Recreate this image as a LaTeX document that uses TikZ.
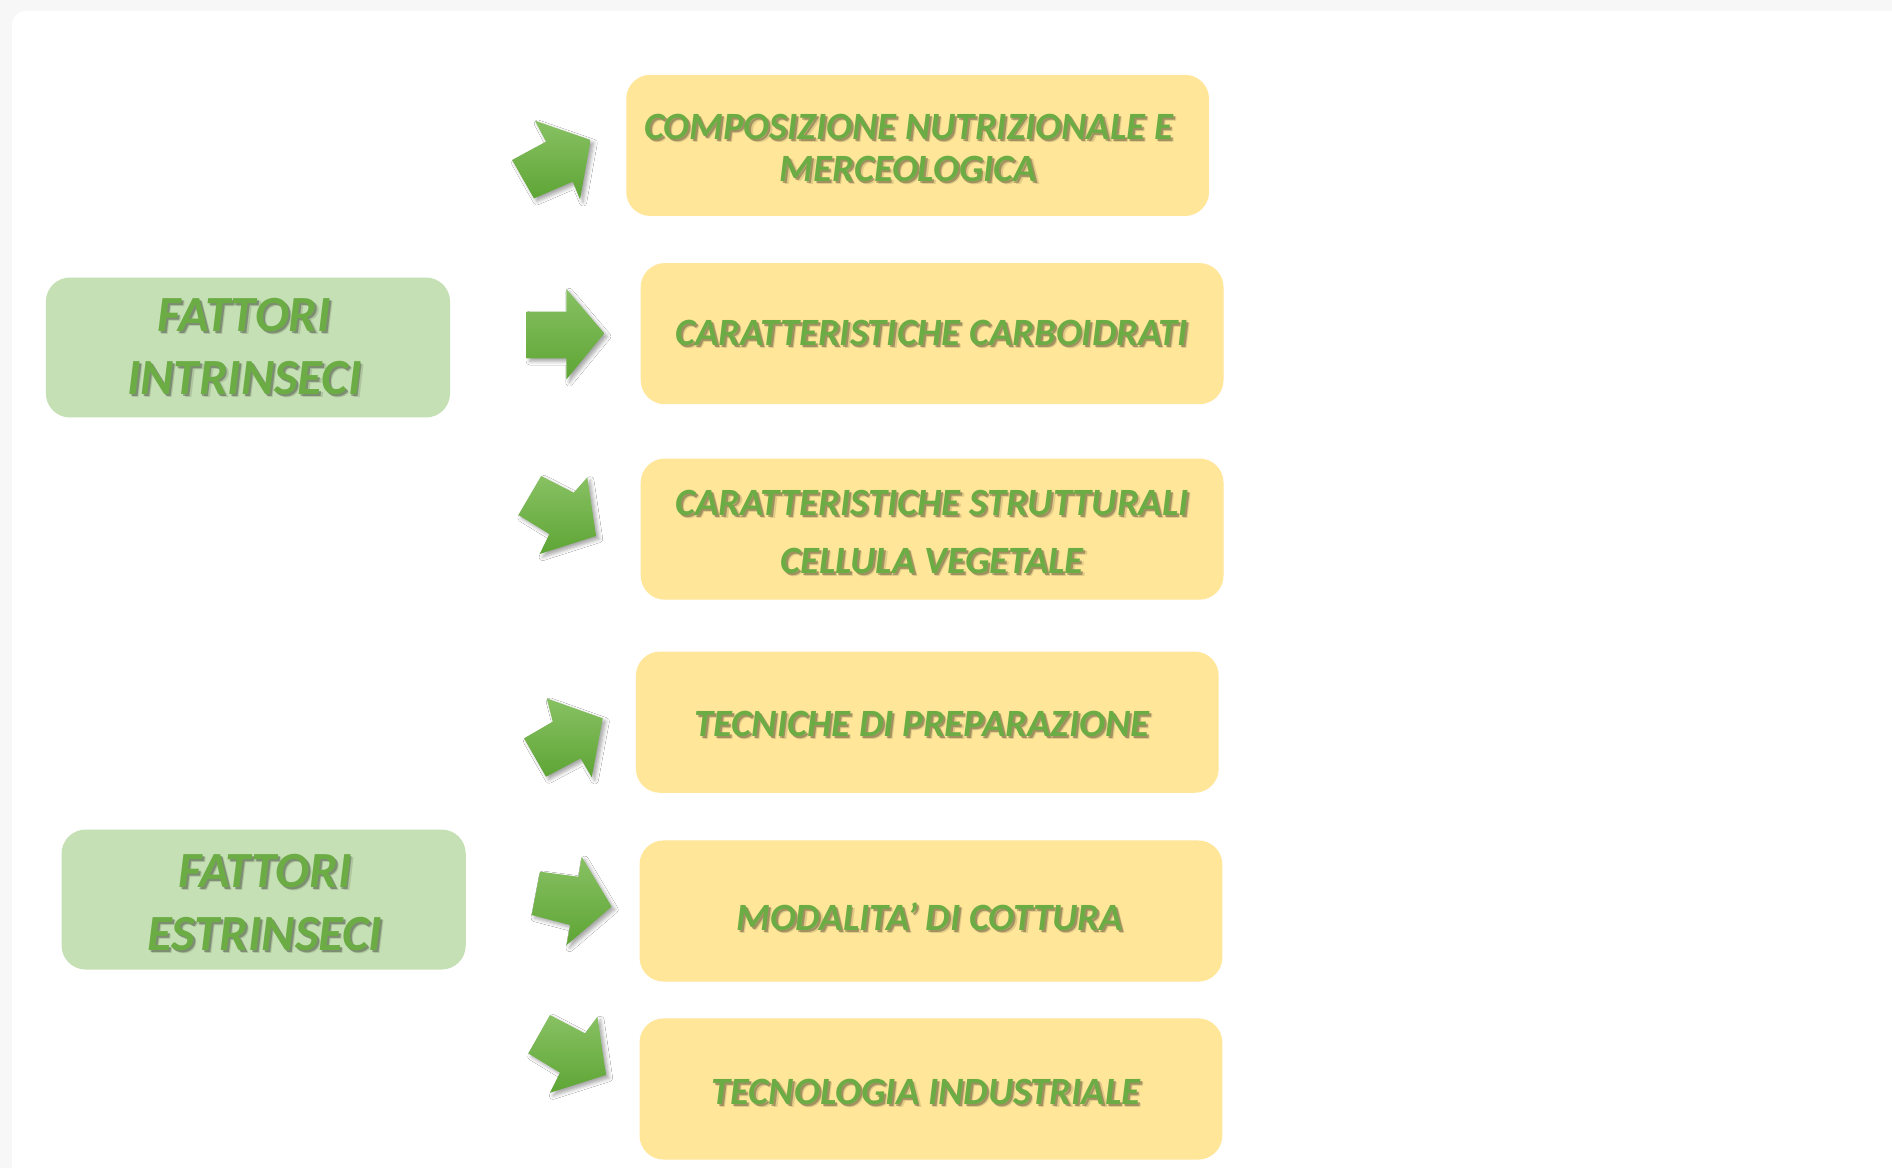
\documentclass[tikz,border=0pt]{standalone}
\usepackage{fontspec}
\setmainfont{Carlito}
\usetikzlibrary{shadows,shadows.blur,calc}
\definecolor{ycol}{HTML}{FFE699}
\definecolor{gcol}{HTML}{C5E0B4}
\definecolor{gtxt}{HTML}{6CAC45}
\definecolor{aLight}{HTML}{88C163}
\definecolor{aDark}{HTML}{5EA535}
\definecolor{framecol}{HTML}{F7F7F7}
\tikzset{
  yelbox/.style={fill=ycol, rounded corners=20pt, minimum width=483pt, minimum height=117pt, inner sep=0pt},
  grnbox/.style={fill=gcol, rounded corners=20pt, minimum width=335pt, minimum height=116pt, inner sep=0pt},
  ytext/.style={text=gtxt, font=\fontsize{32}{35}\selectfont\bfseries\itshape, align=center, inner sep=0pt},
  ytextwide/.style={ytext, font=\fontsize{32}{48}\selectfont\bfseries\itshape},
  gtext/.style={text=gtxt, font=\fontsize{42}{52}\selectfont\bfseries\itshape, align=center, inner sep=0pt},
  blockarrow/.style={top color=aLight, bottom color=aDark, draw=none,
    blur shadow={shadow xshift=2.5pt, shadow yshift=-2.5pt, shadow blur radius=3pt, shadow opacity=35}},
}
\newcommand\shtext[4]{%
  \node[#3, text=black, opacity=0.12] at ($#2+(2.6,2.6)$) {#4};
  \node[#3, text=black, opacity=0.28] at ($#2+(1.6,1.6)$) {#4};
  \node[#3] (#1) at #2 {#4};}
\begin{document}
\begin{tikzpicture}[x=1pt,y=-1pt]
\useasboundingbox (0,0) rectangle (1568,968);
% background frame
\fill[framecol] (0,0) rectangle (1568,968);
\fill[white, rounded corners=12pt] (10,9) rectangle (1600,1000);

% boxes
\node[yelbox] (y1) at (760.5,120.5) {};
\node[yelbox] (y2) at (772.5,276.5) {};
\node[yelbox] (y3) at (772.5,438.5) {};
\node[yelbox] (y4) at (768.5,598.5) {};
\node[yelbox] (y5) at (771.5,755) {};
\node[yelbox] (y6) at (771.5,902.5) {};
\node[grnbox] (g1) at (205.5,288) {};
\node[grnbox] (g2) at (218.5,745.5) {};

% texts
\shtext{t1}{(753,122.5)}{ytext}{COMPOSIZIONE NUTRIZIONALE E\\MERCEOLOGICA}
\shtext{t2}{(772,276)}{ytext}{CARATTERISTICHE CARBOIDRATI}
\shtext{t3}{(772.5,441)}{ytextwide}{CARATTERISTICHE STRUTTURALI\\CELLULA VEGETALE}
\shtext{t4}{(764,600)}{ytext}{TECNICHE DI PREPARAZIONE}
\shtext{t5}{(770.5,760)}{ytext}{MODALITA’ DI COTTURA}
\shtext{t6}{(767.5,905)}{ytext}{TECNOLOGIA INDUSTRIALE}
\shtext{tg1}{(202.5,287)}{gtext}{FATTORI\\INTRINSECI}
\shtext{tg2}{(219.5,748)}{gtext}{FATTORI\\ESTRINSECI}

% arrows
\path[blockarrow] (424.4,132.6) -- (452.5,117.4) -- (443.3,100.0) -- (489.5,116.0)
  -- (480.7,165.2) -- (474.6,150.6) -- (442.5,164.4) -- cycle;
\path[blockarrow] (436.5,258.3) -- (469.4,258.3) -- (469.4,239.5) -- (500.8,276.3)
  -- (469.4,314.4) -- (469.4,297.0) -- (436.5,297.0) -- cycle;
\path[blockarrow] (448.5,394.5) -- (475.5,408.3) -- (486.7,395.6) -- (494.0,444.2)
  -- (447.3,459.1) -- (455.3,442.6) -- (429.6,426.8) -- cycle;
\path[blockarrow] (434.3,611.9) -- (458.1,598.1) -- (453.1,578.8) -- (499.5,595.3)
  -- (490.4,644.2) -- (481.2,628.5) -- (452.5,643.7) -- cycle;
\path[blockarrow] (447.5,722.4) -- (479.3,726.6) -- (482.1,710.0) -- (506.9,751.4)
  -- (469.6,783.2) -- (472.4,766.6) -- (440.6,758.3) -- cycle;
\path[blockarrow] (455.8,841.2) -- (484.8,856.4) -- (495.1,842.6) -- (502.2,890.9)
  -- (455.8,905.6) -- (464.1,889.0) -- (437.8,873.0) -- cycle;
\end{tikzpicture}
\end{document}
